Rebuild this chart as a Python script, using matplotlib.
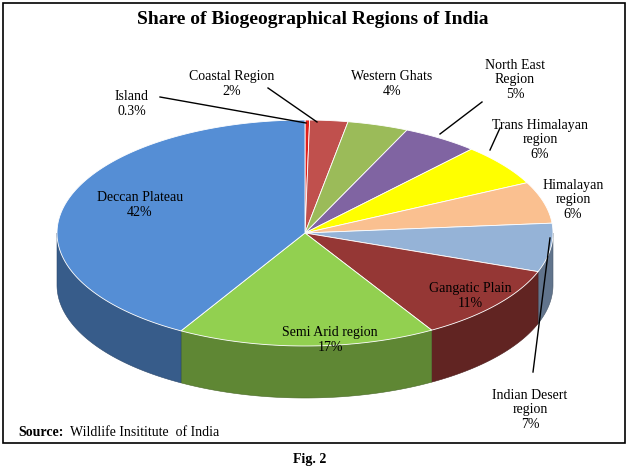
import numpy as np
import matplotlib
matplotlib.use("Agg")
import matplotlib.pyplot as plt
from matplotlib.patches import Polygon, Rectangle
import matplotlib.colors as mc

labels = ["Island", "Coastal Region", "Western Ghats", "North East\nRegion", "Trans Himalayan\nregion",
          "Himalayan\nregion", "Indian Desert\nregion", "Gangatic Plain", "Semi Arid region", "Deccan Plateau"]
pct_text = ["0.3%", "2%", "4%", "5%", "6%", "6%", "7%", "11%", "17%", "42%"]
values = [0.3, 2.5, 4, 5, 6, 6, 7, 11, 17, 42]
colors = ["#E0201B", "#C0504D", "#9BBB59", "#8064A2", "#FFFF00", "#FAC090", "#95B3D7", "#953735", "#92D050", "#558ED5"]

W, H = 637, 476
fig = plt.figure(figsize=(W/100, H/100), dpi=100)
ax = fig.add_axes([0, 0, 1, 1])
ax.set_xlim(0, W); ax.set_ylim(H, 0); ax.axis("off")
ax.add_patch(Rectangle((3, 3), 622, 440, fill=False, lw=1.2, ec="black"))

cx, cy, rx, ry, depth = 305, 233, 248, 113, 52
total = sum(values)
bounds = 90 - np.concatenate([[0], np.cumsum(values)]) * 360 / total

def pt(t, dy=0):
    r = np.radians(t)
    return cx + rx*np.cos(r), cy - ry*np.sin(r) + dy

def dark(c, f=0.65):
    r, g, b = mc.to_rgb(c)
    return (r*f, g*f, b*f)

# side walls (front half: angles between 180 and 360 i.e. -180..0)
for i, c in enumerate(colors):
    a0, a1 = bounds[i+1], bounds[i]
    # normalise into range to intersect with [-180, 0]
    for off in (0, -360, 360):
        lo, hi = max(a0+off, -180), min(a1+off, 0)
        if hi > lo:
            ts = np.linspace(lo, hi, 80)
            top = [pt(t) for t in ts]
            bot = [pt(t, depth) for t in ts[::-1]]
            ax.add_patch(Polygon(top+bot, closed=True, fc=dark(c), ec=dark(c, 0.5), lw=0.4))

for i, c in enumerate(colors):
    ts = np.linspace(bounds[i+1], bounds[i], 200)
    poly = [(cx, cy)] + [pt(t) for t in ts]
    ax.add_patch(Polygon(poly, closed=True, fc=c, ec="white", lw=0.6))

font = dict(family="Liberation Serif", fontsize=10, ha="center", va="center")
pos = [(132, 104), (232, 84), (392, 84), (515, 80), (540, 140), (573, 200), (530, 410), (470, 296), (330, 340), (140, 205)]
for (x, y), l, p in zip(pos, labels, pct_text):
    ax.text(x, y, l + "\n" + p, linespacing=1.15, **font)

lines = [((160, 97), (306, 123)), ((268, 88), (317, 122)), ((482, 102), (440, 134)),
         ((500, 128), (490, 150)), ((533, 372), (550, 238))]
for (x0, y0), (x1, y1) in lines:
    ax.plot([x0, x1], [y0, y1], color="black", lw=1)

ax.text(313, 19, "Share of Biogeographical Regions of India", family="Liberation Serif",
        fontsize=14, weight="bold", ha="center", va="center")
ax.text(18, 432, "Source:", family="Liberation Serif", fontsize=10, weight="bold", va="center")
ax.text(70, 432, "Wildlife Insititute  of India", family="Liberation Serif", fontsize=10, va="center")
ax.text(310, 460, "Fig. 2", family="Liberation Serif", fontsize=10, weight="bold", ha="center", va="center")
fig.savefig("out.png", dpi=100)
